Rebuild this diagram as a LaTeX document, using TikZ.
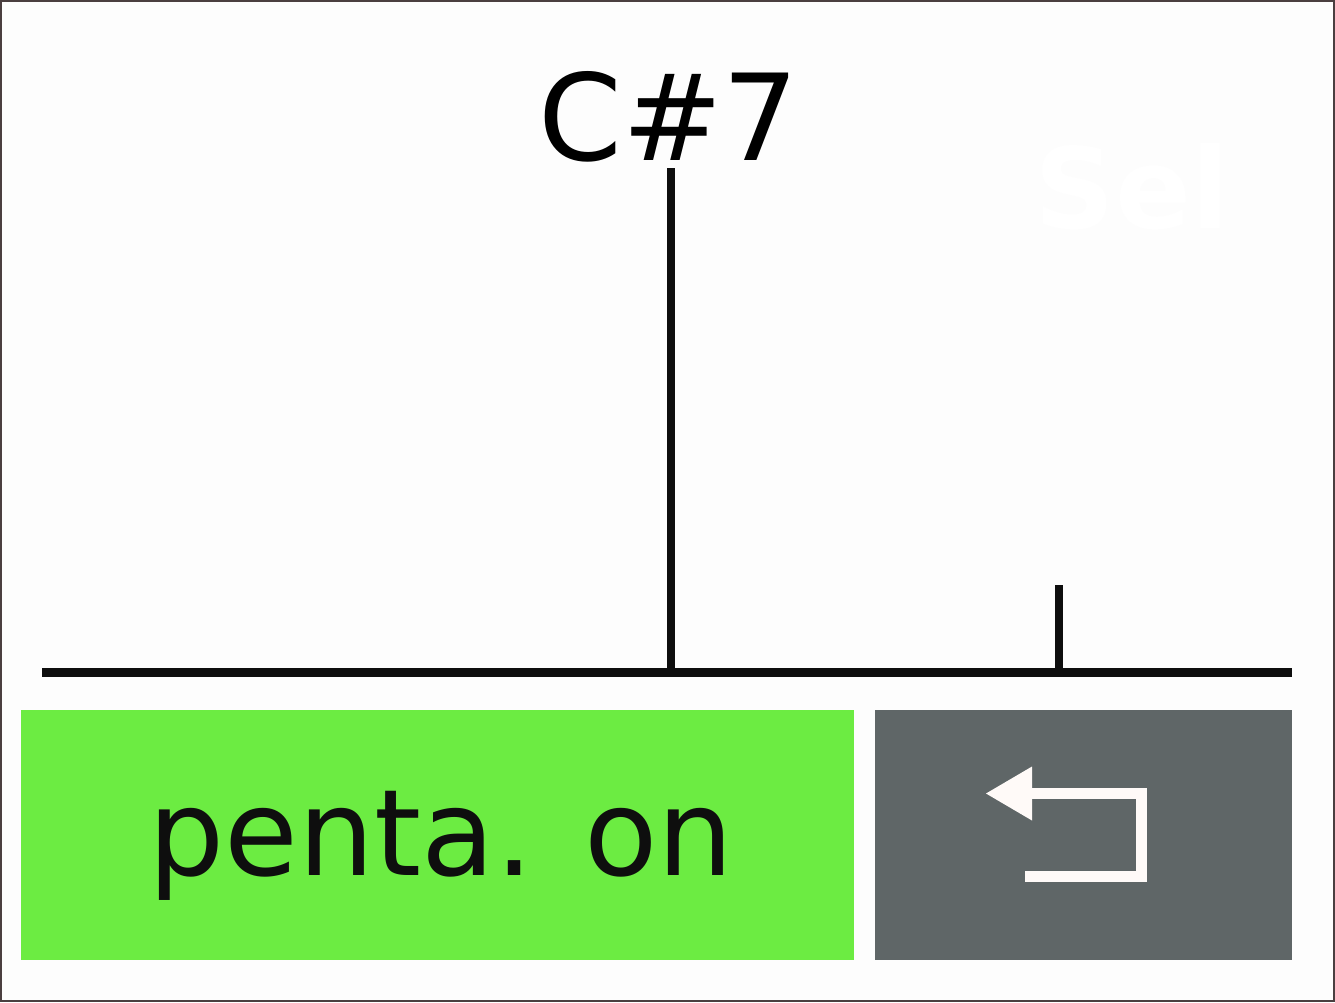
\documentclass[tikz,border=0pt]{standalone}
\usepackage{fontspec}
\setmainfont{DejaVu Sans}
\usepackage{xcolor}
\usetikzlibrary{arrows.meta, positioning, calc}

\definecolor{pagegray}{HTML}{FDFDFD}
\definecolor{framegray}{HTML}{4A3F40}
\definecolor{inkblack}{HTML}{0E0E0E}
\definecolor{btngreen}{HTML}{6CEC42}
\definecolor{btngray}{HTML}{5F6667}
\definecolor{iconwhite}{HTML}{FFFAF8}

\begin{document}
\begin{tikzpicture}[
  x=1pt, y=-1pt,
  btn/.style={anchor=north west, inner sep=0pt, minimum height=250pt, align=center},
  label/.style={font=\fontsize{120}{120}\selectfont, inner sep=0pt, anchor=base},
  axis/.style={line width=9pt, draw=inkblack},
  stem/.style={line width=8pt, draw=inkblack},
  icon/.style={line width=11pt, draw=iconwhite, miter limit=10},
]
\useasboundingbox (0,0) rectangle (1335,1002);

% Frame
\draw[draw=framegray, line width=2pt, fill=pagegray] (1,1) rectangle (1334,1001);

% Labels
\node[label, text=black] (title) at (669,160) {C\#7};
\node[label, text=white, font=\fontsize{112}{112}\selectfont\bfseries] (sel) at (1132,228) {Sel};

% Buttons
\node[btn, fill=btngreen, minimum width=833pt] (penta) at (21,710) {};
\node[btn, fill=btngray, minimum width=417pt, right=20pt of penta.east, anchor=west] (back) {};
\node[label, text=inkblack] (pentatext) at (441,875) {penta. on};

% Axis and stems
\coordinate (axisl) at (42,672.5);
\coordinate (axisr) at (1292,672.5);
\coordinate (stemat) at (671,668);
\coordinate (stemtop) at (671,168);
\coordinate (tickat) at (1058.5,668);
\coordinate (ticktop) at (1058.5,585);
\draw[axis] (axisl) -- (axisr);
\draw[stem] (stemat) -- (stemtop);
\draw[stem] (tickat) -- (ticktop);

% Return icon
\coordinate (icona) at (1032,793.5);
\coordinate (iconb) at (1141.5,793.5);
\coordinate (iconc) at (1141.5,876.5);
\coordinate (icond) at (1025,876.5);
\draw[icon] (icona) -- (iconb) -- (iconc) -- (icond);
\fill[iconwhite] (986,793.5) -- (1032,766.5) -- (1032,820.5) -- cycle;
\end{tikzpicture}
\end{document}
